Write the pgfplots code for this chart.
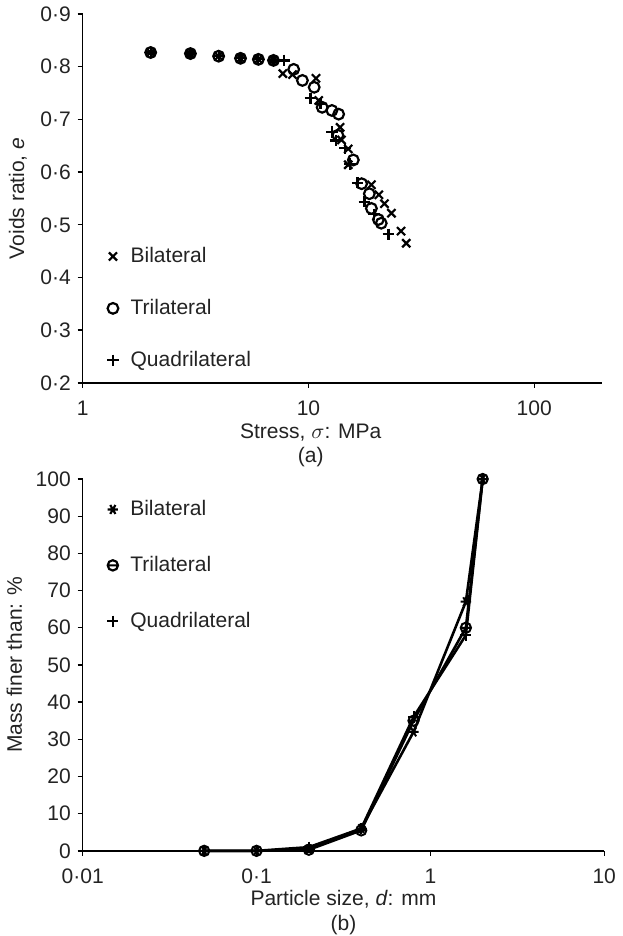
\documentclass[border=0pt]{standalone}
\usepackage{pgfplots}
\pgfplotsset{compat=1.18}
\usepackage{fontspec}
\setmainfont{Liberation Sans}
\definecolor{txt}{RGB}{35,35,35}
\pgfdeclareplotmark{thetao}{%
  \pgfpathcircle{\pgfpointorigin}{\pgfplotmarksize}%
  \pgfpathmoveto{\pgfqpoint{-\pgfplotmarksize}{0pt}}%
  \pgfpathlineto{\pgfqpoint{\pgfplotmarksize}{0pt}}%
  \pgfusepathqstroke}
\begin{document}
\begin{tikzpicture}[font=\fontsize{10.6}{12.5}\selectfont]
\pgfplotsset{every axis/.append style={
  scale only axis, axis lines=left, axis line style={-, line width=0.7pt, black},
  tick align=outside, major tick length=2.5pt, tick style={line width=0.7pt, black},
  tick label style={font=\fontsize{10.6}{12.5}\selectfont, text=txt},
  label style={font=\fontsize{10.6}{12.5}\selectfont, text=txt},
  xticklabel shift=3pt,
  clip=false,
  legend style={draw=none, fill=none, font=\fontsize{10.6}{12.5}\selectfont, text=txt, legend cell align=left, column sep=4pt},
}}
\begin{axis}[at={(0,0)}, anchor=south west, width=262pt, height=186pt,
  xmode=log, xmin=1, xmax=200, ymin=0.2, ymax=0.9,
  xtick={1,10,100}, xticklabels={1,10,100}, xminorticks=false,
  ytick={0.2,0.3,0.4,0.5,0.6,0.7,0.8,0.9},
  yticklabels={0·2,0·3,0·4,0·5,0·6,0·7,0·8,0·9},
  xlabel={Stress, $\sigma$: MPa\\(a)}, xlabel style={align=center, xshift=-16pt, yshift=3pt},
  ylabel={Voids ratio, \textit{e}},
  legend style={at={(axis description cs:0.035,0.39)}, anchor=north west, row sep=13pt},
]
\addplot[only marks, mark=x, mark size=2.9pt, mark options={line width=1.1pt, black}] coordinates {
(2,0.827)(3,0.825)(4,0.820)(5,0.816)(6,0.814)(7,0.812)(7.7,0.787)(8.5,0.785)(10.8,0.778)(11.1,0.736)
(13.8,0.685)(14.0,0.661)(15.0,0.644)(15.0,0.614)(19.0,0.576)(20.5,0.557)(21.7,0.540)(23.3,0.522)
(25.7,0.488)(27.1,0.465)};
\addlegendentry{Bilateral}
\addplot[only marks, mark=o, mark size=2.7pt, mark options={line width=1.1pt, black}] coordinates {
(2,0.827)(3,0.825)(4,0.820)(5,0.816)(6,0.814)(7,0.812)(8.6,0.795)(9.4,0.774)(10.6,0.761)(11.5,0.723)
(12.7,0.717)(13.6,0.710)(13.5,0.670)(15.8,0.623)(17.2,0.578)(18.6,0.559)(19.0,0.531)(20.4,0.510)(21.0,0.503)};
\addlegendentry{Trilateral}
\addplot[only marks, mark=+, mark size=2.9pt, mark options={line width=1.1pt, black}] coordinates {
(2,0.827)(3,0.825)(4,0.820)(5,0.816)(6,0.814)(7,0.812)(7.8,0.812)(10.2,0.740)(11.3,0.730)(12.7,0.676)
(13.2,0.660)(14.5,0.645)(15.3,0.615)(16.5,0.580)(17.7,0.544)(19.5,0.520)(22.6,0.482)};
\addlegendentry{Quadrilateral}
\end{axis}
\begin{axis}[at={(0,-48.5pt)}, anchor=north west, width=263pt, height=187.5pt,
  xmode=log, xmin=0.01, xmax=10, ymin=0, ymax=100,
  xtick={0.01,0.1,1,10}, xticklabels={0·01,0·1,1,10}, xminorticks=false,
  ytick={0,10,20,30,40,50,60,70,80,90,100},
  yticklabels={0,10,20,30,40,50,60,70,80,90,100},
  xlabel={Particle size, \textit{d}: mm\\(b)}, xlabel style={align=center, yshift=0.5pt, inner sep=0.5pt},
  ylabel={Mass finer than: \%},
  legend style={at={(axis description cs:0.035,0.965)}, anchor=north west, row sep=15pt},
]
\addlegendimage{only marks, mark=asterisk, mark size=2.6pt, mark options={rotate=90, line width=1.1pt, black}}
\addlegendentry{Bilateral}
\addlegendimage{only marks, mark=thetao, mark size=2.6pt, mark options={line width=1.1pt, black}}
\addlegendentry{Trilateral}
\addlegendimage{only marks, mark=+, mark size=2.8pt, mark options={line width=1.1pt, black}}
\addlegendentry{Quadrilateral}
\addplot[forget plot, black, line width=1.3pt, mark=asterisk, mark size=2.6pt, mark options={rotate=90, line width=1pt}] coordinates {
(0.05,0)(0.1,0)(0.2,0.5)(0.4,6)(0.8,32)(1.6,67)(2.0,100)};
\addplot[forget plot, black, line width=1.3pt, mark=thetao, mark size=2.6pt, mark options={line width=1pt}] coordinates {
(0.05,0)(0.1,0)(0.2,0.3)(0.4,5.5)(0.8,35)(1.6,60)(2.0,100)};
\addplot[forget plot, black, line width=1.3pt, mark=+, mark size=2.8pt, mark options={line width=1pt}] coordinates {
(0.05,0)(0.1,0)(0.2,1)(0.4,6)(0.8,36)(1.6,58)(2.0,100)};
\end{axis}
\end{tikzpicture}
\end{document}
